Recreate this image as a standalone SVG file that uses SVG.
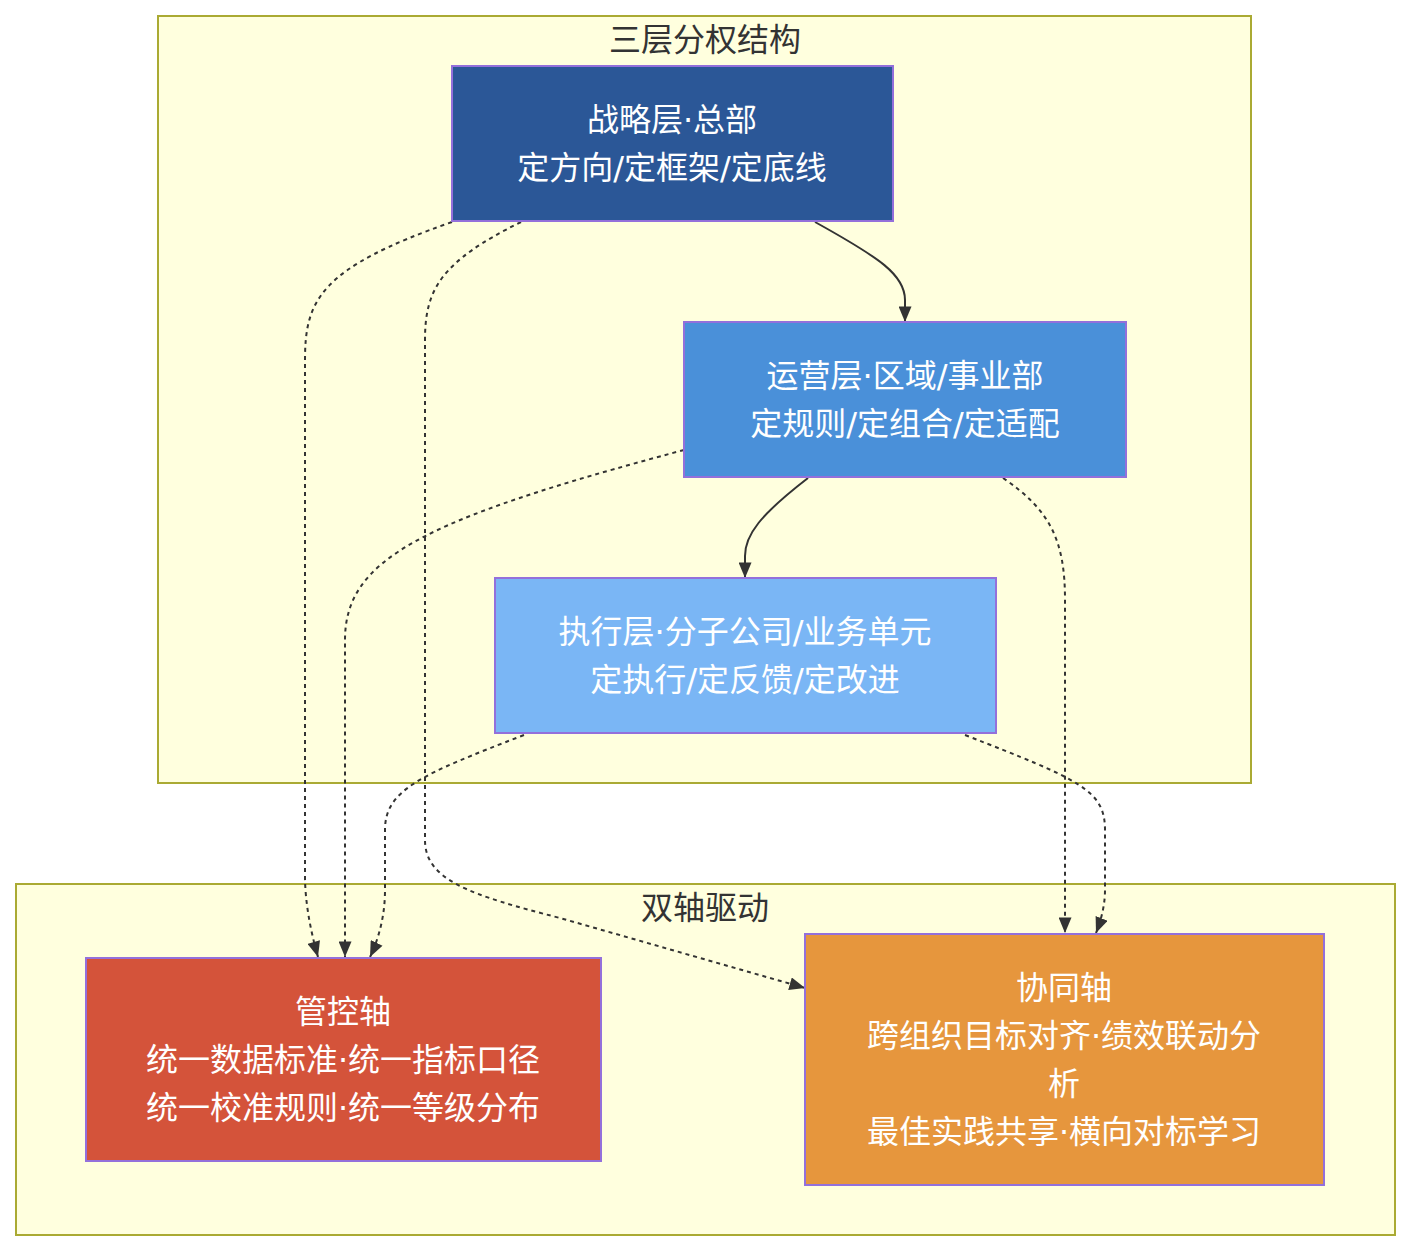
<svg xmlns="http://www.w3.org/2000/svg" width="1411" height="1252" viewBox="0 0 1411 1252">
<defs>
<marker id="arr" viewBox="0 0 12 10" refX="12" refY="5" markerWidth="16" markerHeight="13" markerUnits="userSpaceOnUse" orient="auto">
<path d="M0,0 L12,5 L0,10 Z" fill="#333333"/>
</marker>
<style>
.cluster{fill:#ffffde;stroke:#aaaa33;stroke-width:2}
.ctitle{font-family:"DejaVu Sans","Noto Sans CJK SC",sans-serif;font-size:32px;fill:#333333;text-anchor:middle}
.node rect{stroke:#9370DB;stroke-width:2}
.node text{font-family:"DejaVu Sans","Noto Sans CJK SC",sans-serif;font-size:32px;fill:#ffffff;text-anchor:middle}
.edge{fill:none;stroke:#333333;stroke-width:2;marker-end:url(#arr)}
.dash{stroke-dasharray:4,4}
</style>
</defs>
<rect width="1411" height="1252" fill="#ffffff"/>
<g id="cluster-three">
<rect class="cluster" x="158" y="16" width="1093" height="767"/>
<text class="ctitle" x="705" y="51">三层分权结构</text>
</g>
<g id="cluster-axis">
<rect class="cluster" x="16" y="884" width="1379" height="351"/>
<text class="ctitle" x="705" y="919">双轴驱动</text>
</g>
<g id="connectors">
<path class="edge" d="M815,222 C880,258 905,275 905,300 L905,322"/>
<path class="edge" d="M808,478 C760,515 745,535 745,556 L745,578"/>
<path class="edge dash" d="M452,222 C320,268 305,300 305,360 L305,880 Q306,915 318,957"/>
<path class="edge dash" d="M521,222 C440,262 425,290 425,340 L425,840 C425,880 470,895 560,918 L805,988"/>
<path class="edge dash" d="M684,450 C420,520 345,560 345,640 L345,957"/>
<path class="edge dash" d="M1003,478 C1050,510 1065,540 1065,600 L1065,933"/>
<path class="edge dash" d="M524,735 C420,775 385,790 385,830 L385,890 Q385,925 370,957"/>
<path class="edge dash" d="M965,735 C1080,780 1105,790 1105,830 L1105,890 Q1105,910 1096,933"/>
</g>
<g id="node-strategy" class="node">
<rect x="452" y="66" width="441" height="155" fill="#2B5797"/>
<text x="672" y="131">战略层·总部</text>
<text x="672" y="179">定方向/定框架/定底线</text>
</g>
<g id="node-ops" class="node">
<rect x="684" y="322" width="442" height="155" fill="#4A90D9"/>
<text x="905" y="387">运营层·区域/事业部</text>
<text x="905" y="435">定规则/定组合/定适配</text>
</g>
<g id="node-exec" class="node">
<rect x="495" y="578" width="501" height="155" fill="#7AB6F5"/>
<text x="745" y="643">执行层·分子公司/业务单元</text>
<text x="745" y="691">定执行/定反馈/定改进</text>
</g>
<g id="node-control" class="node">
<rect x="86" y="958" width="515" height="203" fill="#D4533A"/>
<text x="343" y="1023">管控轴</text>
<text x="343" y="1071">统一数据标准·统一指标口径</text>
<text x="343" y="1119">统一校准规则·统一等级分布</text>
</g>
<g id="node-coop" class="node">
<rect x="805" y="934" width="519" height="251" fill="#E6963D"/>
<text x="1064" y="999">协同轴</text>
<text x="1064" y="1047">跨组织目标对齐·绩效联动分</text>
<text x="1064" y="1095">析</text>
<text x="1064" y="1143">最佳实践共享·横向对标学习</text>
</g>
</svg>
